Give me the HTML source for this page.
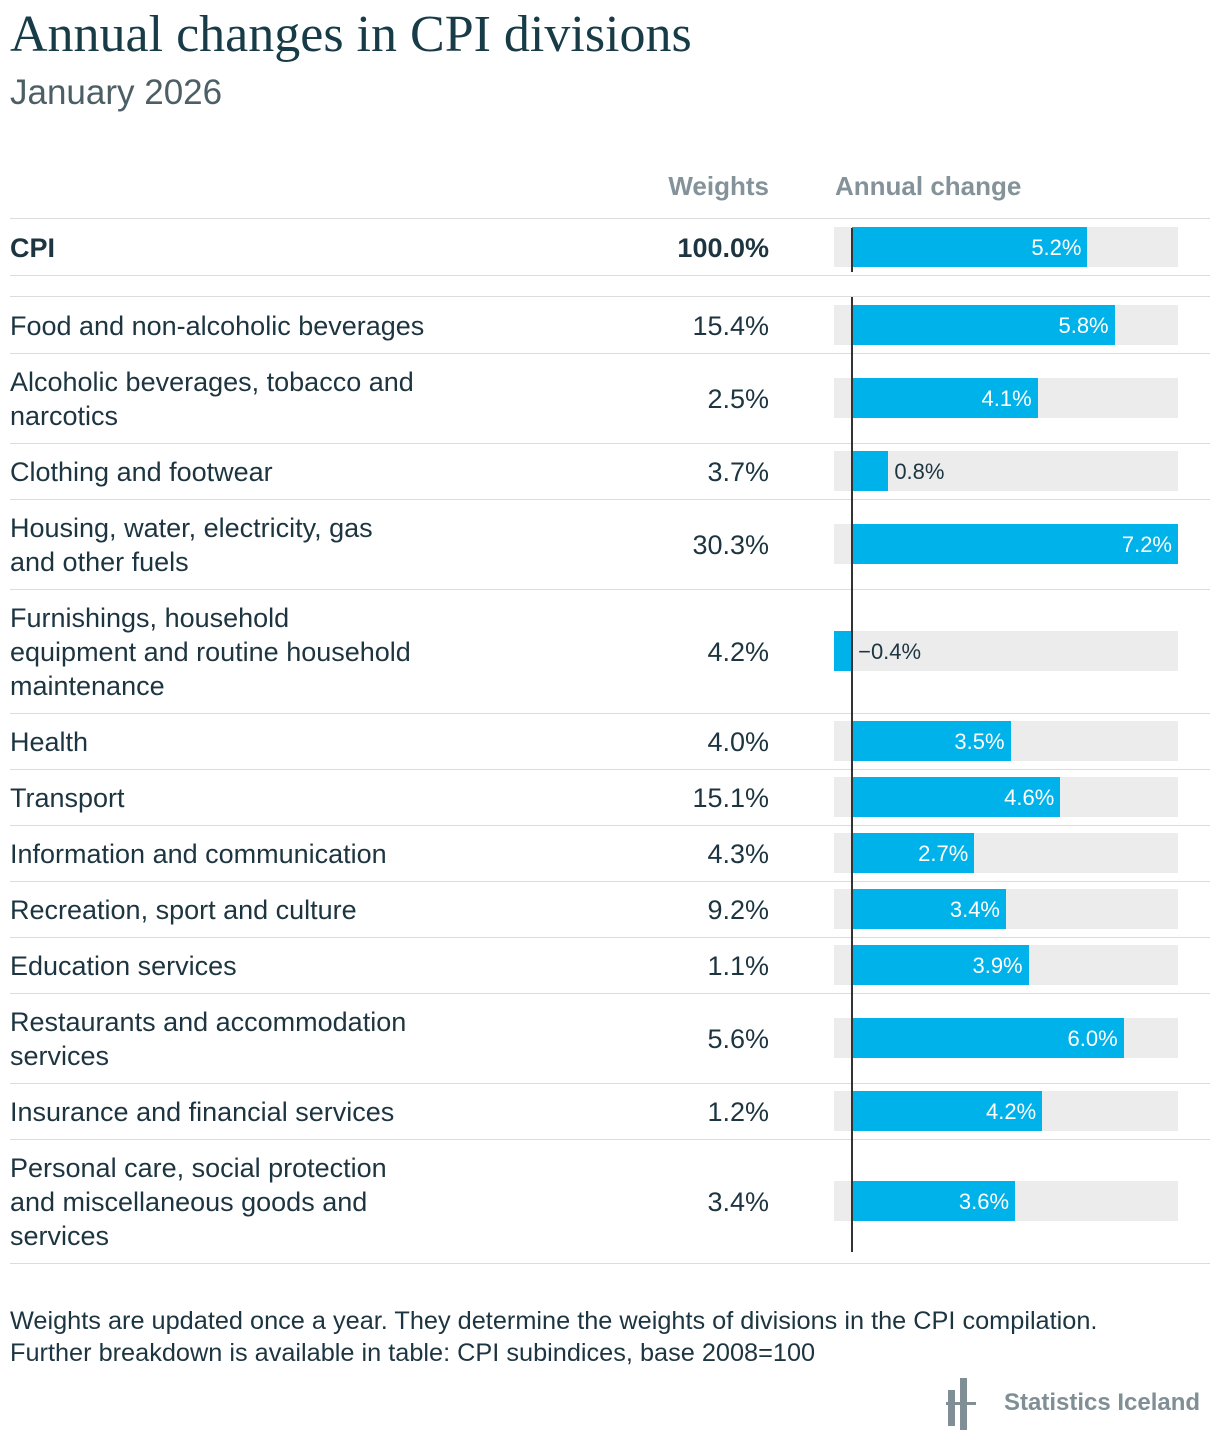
<!DOCTYPE html>
<html><head><meta charset="utf-8"><style>
body{margin:0;width:1220px;height:1454px;background:#fff;position:relative;font-family:"Liberation Sans",sans-serif;color:#1d3540;overflow:hidden}
.abs{position:absolute}
.title{left:10px;top:5px;font-family:"Liberation Serif",serif;font-size:52px;color:#173c47}
.sub{left:10px;top:73px;font-size:35px;color:#4d5f66;font-weight:300}
.hdr{top:171px;font-size:26px;font-weight:bold;color:#84939a}
.sep{left:10px;width:1200px;height:1px;background:#dcdcdc}
.lab{left:10px;font-size:27px;line-height:34px;display:flex;align-items:center;padding-top:2px;box-sizing:border-box}
.wt{right:451px;font-size:27px;display:flex;align-items:center;padding-top:2px;box-sizing:border-box}
.bg{left:834px;width:344px;height:40px;background:#ececec}
.bar{height:40px;background:#00b2ea}
.val{font-size:22px;line-height:42px}
.foot{left:10px;top:1305px;font-size:25.3px;line-height:32px;color:#1d3540}
</style></head><body>
<div class="abs title">Annual changes in CPI divisions</div>
<div class="abs sub">January 2026</div>
<div class="abs hdr" style="right:451px">Weights</div>
<div class="abs hdr" style="left:835px">Annual change</div>
<div class="abs sep" style="top:218px"></div>
<div id="rows"></div>
<div class="abs foot">Weights are updated once a year. They determine the weights of divisions in the CPI compilation.<br>Further breakdown is available in table: CPI subindices, base 2008=100</div>
<div class="abs" style="left:946px;top:1378px;width:30px;height:52px">
<div class="abs" style="left:2px;top:12px;width:7px;height:36px;background:#7f8f95"></div>
<div class="abs" style="left:14px;top:0;width:7px;height:52px;background:#7f8f95"></div>
<div class="abs" style="left:0;top:24px;width:30px;height:3px;background:#7f8f95"></div>
</div>
<div class="abs" style="left:1004px;top:1389px;font-size:24px;font-weight:bold;color:#7f8f95">Statistics Iceland</div>
<script>
const categories=["CPI","Food and non-alcoholic beverages","Alcoholic beverages, tobacco and<br>narcotics","Clothing and footwear","Housing, water, electricity, gas<br>and other fuels","Furnishings, household<br>equipment and routine household<br>maintenance","Health","Transport","Information and communication","Recreation, sport and culture","Education services","Restaurants and accommodation<br>services","Insurance and financial services","Personal care, social protection<br>and miscellaneous goods and<br>services"];
const weights=["100.0%","15.4%","2.5%","3.7%","30.3%","4.2%","4.0%","15.1%","4.3%","9.2%","1.1%","5.6%","1.2%","3.4%"];
const changes=[5.2,5.8,4.1,0.8,7.2,-0.4,3.5,4.6,2.7,3.4,3.9,6.0,4.2,3.6];
const domainMin=-0.4, domainMax=7.2, px0=834, px1=1178;
const xScale=v=>px0+(v-domainMin)/(domainMax-domainMin)*(px1-px0);
const root=document.getElementById('rows');
let yPos=219;
const fmt=v=>(v<0?'\u2212':'')+Math.abs(v).toFixed(1)+'%';
function add(cls,style,name,html){const d=document.createElement('div');d.className='abs '+cls;d.style.cssText=style;


if(html)d.innerHTML=html;root.appendChild(d);return d;}
categories.forEach((c,i)=>{
  const lines=c.split('<br>').length;
  const h=lines===1?56:(lines===2?90:124);
  const bold=i===0?'font-weight:bold;':'';
  add('lab',`top:${yPos}px;height:${h}px;${bold}`,'row-label',c);
  add('wt',`top:${yPos}px;height:${h}px;${bold}`,'row-weight',weights[i]);
  const by=yPos+h/2-20;
  add('bg',`top:${by}px`,'bar-background');
  const v=changes[i],x0=xScale(0),xv=xScale(v);
  add('bar',`left:${Math.min(x0,xv)}px;width:${Math.abs(xv-x0)}px;top:${by}px`,'bar-'+(i+1));
  const w=Math.abs(xv-x0);
  if(w>60) add('val',`left:${xv-80}px;width:74px;text-align:right;top:${by}px;color:#fff`,'bar-value',fmt(v));
  else add('val',`left:${Math.max(x0,xv)+6}px;top:${by}px;color:#1d3540`,'bar-value',fmt(v));
  if(i===0){
    add('sep',`top:${yPos+h}px`,'row-separator');
    add('','left:851px;width:2px;top:'+(yPos+9)+'px;height:44px;background:#333','zero-line-cpi');
    yPos+=78;
    add('sep',`top:${yPos-1}px`,'row-separator');
  } else {
    yPos+=h;
    add('sep',`top:${yPos}px`,'row-separator');
  }
});
add('','left:851px;width:2px;top:297px;height:955px;background:#333','zero-line');
</script>
</body></html>
